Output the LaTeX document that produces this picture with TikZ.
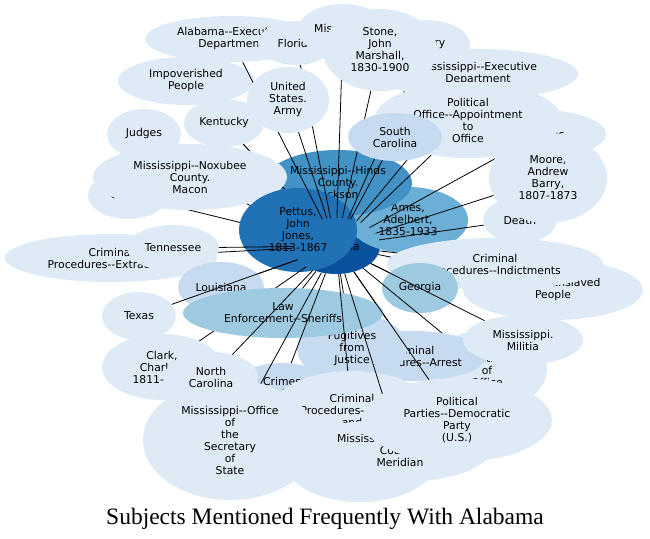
\documentclass[tikz,border=0pt]{standalone}
\usepackage{fontspec}
\newfontfamily\subjfont{DejaVu Sans}
\newfontfamily\captfont{Liberation Serif}
\usetikzlibrary{shapes.geometric}

\definecolor{blueA}{HTML}{DEEBF7}
\definecolor{blueB}{HTML}{C6DBEF}
\definecolor{blueC}{HTML}{9ECAE1}
\definecolor{blueD}{HTML}{6BAED6}
\definecolor{blueE}{HTML}{4292C6}
\definecolor{blueF}{HTML}{2171B5}
\definecolor{blueG}{HTML}{08519C}

\tikzset{
  subj/.style={ellipse, inner sep=0pt, align=center, text=black,
    font=\subjfont\fontsize{10.8}{12}\selectfont},
  link/.style={draw=black, line width=0.8pt}
}

% a subject: name, centre, x radius, y radius, fill, label
\newcommand{\subjnode}[6]{%
  \node[subj, fill=#5, minimum width=2*#3, minimum height=2*#4] (#1) at #2 {#6};
  \draw[link] (ala) -- (#1);
}

\begin{document}
\begin{tikzpicture}[x=1pt,y=-1pt]
        \useasboundingbox (0,0) rectangle (650,538);

        % Alabama and the subjects lying on it
        \node[subj, fill=blueG, minimum width=88, minimum height=56] (ala) at (336,246) {Alabama};
        \node[subj, fill=blueD, minimum width=120, minimum height=66] (ames) at (408,220) {Ames,\\Adelbert,\\1835-1933};
        \node[subj, fill=blueE, minimum width=148, minimum height=66] (hinds) at (338,183) {Mississippi--Hinds\\County.\\Jackson};

        % upper left
        \subjnode{impov}{(186,81)}{68}{24}{blueA}{Impoverished\\People}
        \subjnode{kentucky}{(224,123)}{40}{24}{blueA}{Kentucky}
        \subjnode{judges}{(144,134)}{37}{25}{blueA}{Judges}
        \subjnode{courts}{(128,195)}{40}{24}{blueA}{Courts}
        \subjnode{noxubee}{(190,177)}{97}{33}{blueA}{Mississippi--Noxubee\\County.\\Macon}
        \node[subj, fill=blueF, minimum width=118, minimum height=84] (pettus) at (298,230) {Pettus,\\John\\Jones,\\1813-1867};

        % top
        \subjnode{alaexec}{(231,39)}{86}{23}{blueA}{Alabama--Executive\\Department}
        \subjnode{florida}{(296,43)}{38}{22}{blueA}{Florida}
        \subjnode{miss}{(343,30)}{45}{26}{blueA}{Mississippi}
        \subjnode{slavery}{(425,44)}{45}{24}{blueA}{Slavery}
        \subjnode{missexec}{(478,74)}{100}{25}{blueA}{Mississippi--Executive\\Department}
        \subjnode{stone}{(380,50)}{57}{41}{blueA}{Stone,\\John\\Marshall,\\1830-1900}
        \subjnode{usa}{(288,100)}{41}{33}{blueA}{United\\States.\\Army}

        % right
        \subjnode{elect}{(540,134)}{66}{24}{blueA}{Elections}
        \subjnode{polofc}{(468,120)}{94}{38}{blueA}{Political\\Office--Appointment\\to\\Office}
        \subjnode{southcar}{(395,137)}{47}{24}{blueB}{South\\Carolina}
        \subjnode{death}{(520,220)}{37}{23}{blueA}{Death}
        \subjnode{moore}{(548,178)}{59}{45}{blueA}{Moore,\\Andrew\\Barry,\\1807-1873}
        \subjnode{enslaved}{(553,290)}{90}{30}{blueA}{Fugitive Enslaved\\People}
        \subjnode{indict}{(495,264)}{108}{26}{blueA}{Criminal\\Procedures--Indictments}
        \subjnode{georgia}{(420,288)}{38}{25}{blueC}{Georgia}

        % left
        \subjnode{extrad}{(111,258)}{106}{24}{blueA}{Criminal\\Procedures--Extradition}
        \subjnode{tenn}{(173,248)}{46}{23}{blueA}{Tennessee}
        \subjnode{louis}{(221,287)}{43}{25}{blueB}{Louisiana}
        \subjnode{texas}{(139,316)}{37}{24}{blueA}{Texas}
        \subjnode{clark}{(162,367)}{60}{33}{blueA}{Clark,\\Charles,\\1811-1877}

        % bottom
        \subjnode{oaths}{(487,370)}{60}{40}{blueA}{Oaths\\of\\Office}
        \subjnode{arrest}{(412,356)}{75}{25}{blueB}{Criminal\\Procedures--Arrest}
        \subjnode{fugit}{(352,348)}{55}{35}{blueB}{Fugitives\\from\\Justice}
        \subjnode{lawenf}{(283,313)}{100}{25}{blueC}{Law\\Enforcement--Sheriffs}
        \subjnode{crimes}{(282,387)}{48}{24}{blueB}{Crimes\\Homicide}
        \subjnode{militia}{(523,340)}{60}{25}{blueA}{Mississippi.\\Militia}
        \subjnode{trials}{(352,416)}{85}{45}{blueA}{Criminal\\Procedures--Courts\\and\\Trials}
        \node[subj, fill=blueA, minimum width=150, minimum height=80] (lower) at (360,462) {};
        \subjnode{lauder}{(400,450)}{90}{32}{blueA}{Mississippi--Lauderdale\\County.\\Meridian}
        \subjnode{secstate}{(230,440)}{87}{60}{blueA}{Mississippi--Office\\of\\the\\Secretary\\of\\State}
        \subjnode{nc}{(211,377)}{47}{25}{blueA}{North\\Carolina}
        \subjnode{polparty}{(457,420)}{95}{42}{blueA}{Political\\Parties--Democratic\\Party\\(U.S.)}

        % caption
        \node[font=\captfont\fontsize{23.5}{28}\selectfont, anchor=base] (caption) at (325,524)
            {Subjects Mentioned Frequently With Alabama};
\end{tikzpicture}
\end{document}
